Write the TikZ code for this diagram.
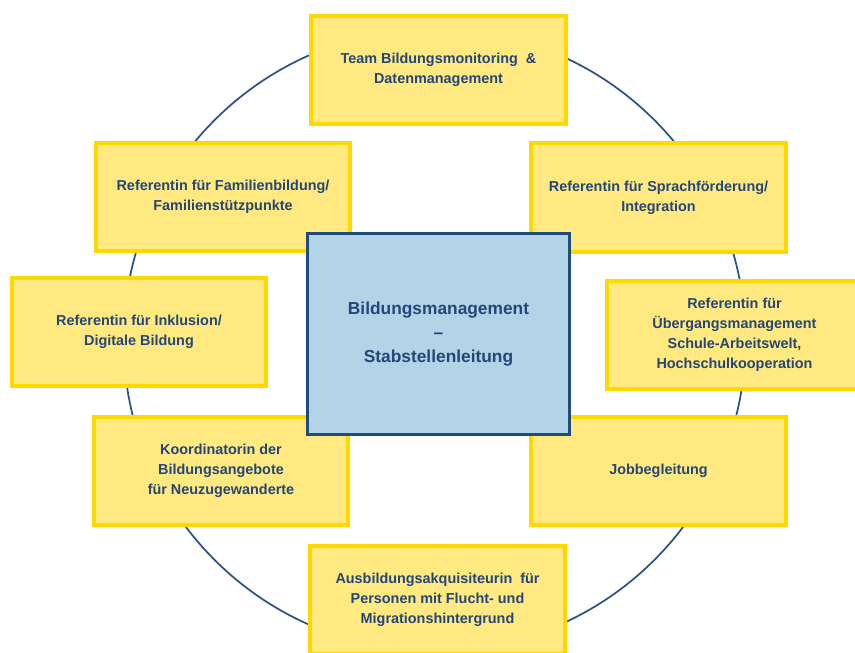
\documentclass[tikz,border=0pt]{standalone}
\usepackage{fontspec}
\setmainfont{Liberation Sans}

\definecolor{unitfill}{RGB}{255,233,128}
\definecolor{unitline}{RGB}{255,216,0}
\definecolor{leadfill}{RGB}{178,212,230}
\definecolor{leadline}{RGB}{31,76,122}
\definecolor{labelblue}{RGB}{36,70,120}
\definecolor{ringblue}{RGB}{44,82,134}

\tikzset{every picture/.style={line width=0.75pt}}
\tikzset{
	unitbox/.style={draw=unitline, fill=unitfill, line width=3pt, minimum width=191pt, minimum height=81pt, inner sep=0pt, align=center, text=labelblue, font=\fontsize{10.8}{15}\selectfont\bfseries},
	leadbox/.style={draw=leadline, fill=leadfill, line width=2.25pt, minimum width=196.5pt, minimum height=150.75pt, inner sep=0pt, align=center, text=labelblue, font=\fontsize{13}{18}\selectfont\bfseries},
	ring/.style={draw=ringblue, line width=1.3pt}
}

\begin{document}
\begin{tikzpicture}[x=0.75pt,y=0.75pt,yscale=-1,xscale=1]
	%set diagram to 855 x 652, boxes on the right and at the bottom run off the edge
	\path[use as bounding box, clip] (0,0) rectangle (855,652);
	
	%Shape: Circle behind the boxes
	\coordinate (hub) at (434.5,340);
	\draw [ring] (hub) circle [radius=233.25pt];
	
	%Shape: Rectangle, top
	\node [unitbox] (monitoring) at (438.5,70) {Team Bildungsmonitoring\ \ \&\\Datenmanagement};
	%Shape: Rectangle, upper left
	\node [unitbox] (familie) at (223,197) {Referentin f\"ur Familienbildung/\\Familienst\"utzpunkte};
	%Shape: Rectangle, upper right
	\node [unitbox] (sprache) at (658.5,197.5) {Referentin f\"ur Sprachf\"orderung/\\Integration};
	%Shape: Rectangle, left
	\node [unitbox] (inklusion) at (139,332) {Referentin f\"ur Inklusion/\\Digitale Bildung};
	%Shape: Rectangle, right
	\node [unitbox] (uebergang) at (734.5,334.5) {Referentin f\"ur\\\"Ubergangsmanagement\\Schule-Arbeitswelt,\\Hochschulkooperation};
	%Shape: Rectangle, lower left
	\node [unitbox] (neuzug) at (221,471) {Koordinatorin der\\Bildungsangebote\\f\"ur Neuzugewanderte};
	%Shape: Rectangle, lower right
	\node [unitbox] (job) at (658.5,471) {Jobbegleitung};
	%Shape: Rectangle, bottom
	\node [unitbox] (ausbildung) at (437.5,600) {Ausbildungsakquisiteurin\ \ f\"ur\\Personen mit Flucht- und\\Migrationshintergrund};
	
	%Shape: Rectangle, centre
	\node [leadbox] (leitung) at (438.5,334) {Bildungsmanagement\\--\\Stabstellenleitung};
	
\end{tikzpicture}
\end{document}
